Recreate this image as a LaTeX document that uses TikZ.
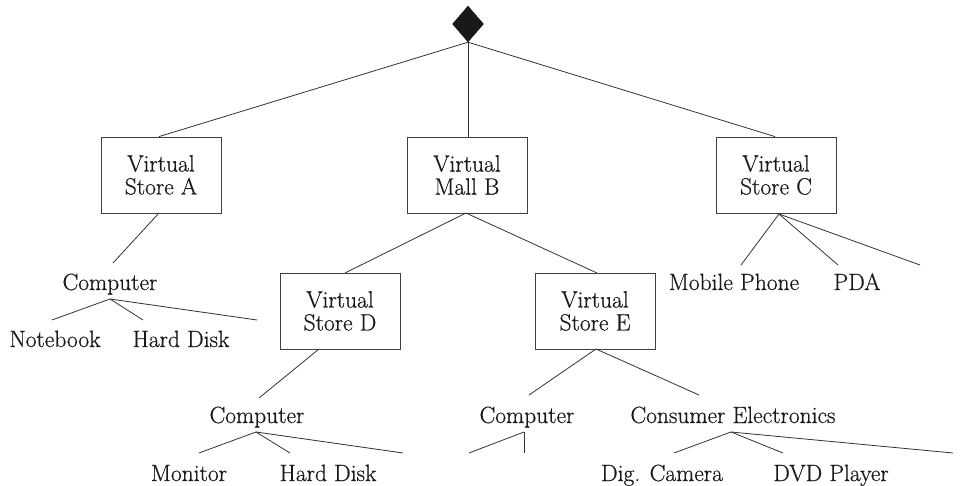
\documentclass[tikz,border=0pt]{standalone}
\usepackage{fontspec}
\setmainfont{Latin Modern Roman}[FakeBold=0.6]
\usetikzlibrary{shapes.geometric}
\begin{document}
\begin{tikzpicture}[x=1pt,y=-1pt,
  ink/.style={draw=black!80, line width=0.8pt},
  box/.style={draw=black!75, line width=0.8pt, minimum width=120pt, minimum height=76pt, align=center, inner sep=0pt, font=\fontsize{23.5}{23}\selectfont, text=black!90},
  lbl/.style={anchor=base, inner sep=0pt, font=\fontsize{23.5}{23}\selectfont, text=black!90}]
\useasboundingbox (0,0) rectangle (961,486);
% root
\node[diamond, fill=black!90, draw=black!90, inner sep=0pt, shape aspect=0.85, minimum width=31pt, minimum height=36pt] (root) at (468,24) {};
% boxes
\node[box] (A) at (161,175) {Virtual\\Store A};
\node[box] (B) at (467,175) {Virtual\\Mall B};
\node[box] (C) at (776,175) {Virtual\\Store C};
\node[box] (D) at (340,311) {Virtual\\Store D};
\node[box] (E) at (595,311) {Virtual\\Store E};
% labels
\node[lbl] (comp1) at (110,290) {Computer};
\node[lbl] (nb) at (55,347) {Notebook};
\node[lbl] (hd1) at (181,347) {Hard Disk};
\node[lbl] (mp) at (734,290) {Mobile Phone};
\node[lbl] (pda) at (857,290) {PDA};
\node[lbl] (comp2) at (257,423) {Computer};
\node[lbl] (mon) at (189,481) {Monitor};
\node[lbl] (hd2) at (328,481) {Hard Disk};
\node[lbl] (comp3) at (527,423) {Computer};
\node[lbl] (ce) at (733,423) {Consumer Electronics};
\node[lbl] (dc) at (662,481) {Dig. Camera};
\node[lbl] (dvd) at (831,481) {DVD Player};
% connector end points
\coordinate (Aout) at (159,213);
\coordinate (c1in) at (113,263);
\coordinate (c1out) at (110,299);
\coordinate (nbin) at (52,320);
\coordinate (hd1in) at (143,320);
\coordinate (x1) at (257,320);
\coordinate (Cout) at (779,214);
\coordinate (mpin) at (741,265);
\coordinate (pdain) at (838,265);
\coordinate (x2) at (920,265);
\coordinate (Bout) at (466,213);
\coordinate (Din) at (345,273);
\coordinate (Ein) at (597,273);
\coordinate (Dout) at (319,349);
\coordinate (c2in) at (259,398);
\coordinate (c2out) at (256,432);
\coordinate (monin) at (199,453);
\coordinate (hd2in) at (290,453);
\coordinate (x3) at (403,453);
\coordinate (Eout) at (596,349);
\coordinate (c3in) at (529,395);
\coordinate (cein) at (699,395);
\coordinate (c3out) at (524,432);
\coordinate (x4) at (469,453);
\coordinate (x5) at (524,453);
\coordinate (ceout) at (731,432);
\coordinate (dcin) at (674,453);
\coordinate (dvdin) at (783,453);
\coordinate (x6) at (953,453);
% connectors
\draw[ink] (root.south) -- ([xshift=-2pt]A.north);
\draw[ink] (root.south) -- ([xshift=1pt]B.north);
\draw[ink] (root.south) -- ([xshift=-1pt]C.north);
\draw[ink] (Aout) -- (c1in);
\draw[ink] (c1out) -- (nbin);
\draw[ink] (c1out) -- (hd1in);
\draw[ink] (c1out) -- (x1);
\draw[ink] (Cout) -- (mpin);
\draw[ink] (Cout) -- (pdain);
\draw[ink] (Cout) -- (x2);
\draw[ink] (Bout) -- (Din);
\draw[ink] (Bout) -- (Ein);
\draw[ink] (Dout) -- (c2in);
\draw[ink] (c2out) -- (monin);
\draw[ink] (c2out) -- (hd2in);
\draw[ink] (c2out) -- (x3);
\draw[ink] (Eout) -- (c3in);
\draw[ink] (Eout) -- (cein);
\draw[ink] (c3out) -- (x4);
\draw[ink] (c3out) -- (x5);
\draw[ink] (ceout) -- (dcin);
\draw[ink] (ceout) -- (dvdin);
\draw[ink] (ceout) -- (x6);
\end{tikzpicture}
\end{document}
